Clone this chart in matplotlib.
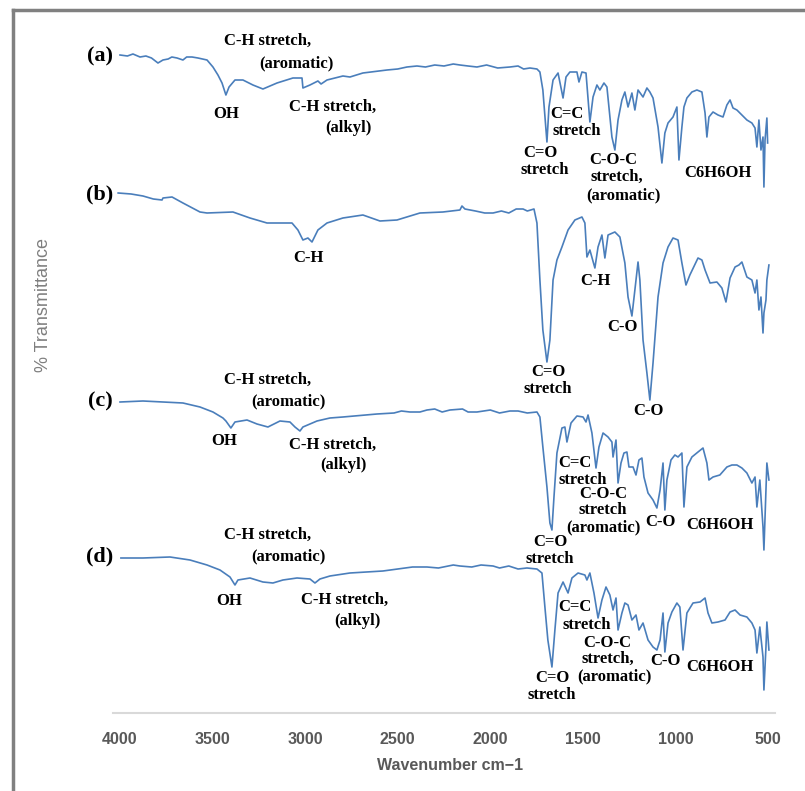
import matplotlib
matplotlib.use("Agg")
import matplotlib.pyplot as plt
from matplotlib.lines import Line2D

W, H = 805, 791

# wavenumbers (cm-1) and transmittance (arbitrary, stacked)
wn_a = [4000, 3960, 3930, 3892, 3860, 3830, 3795, 3768, 3740, 3720, 3692, 3660, 3640, 3611, 3579,
        3530, 3498, 3471, 3449, 3428, 3411, 3379, 3336, 3282, 3228, 3152, 3066, 3017, 3012, 2974,
        2931, 2914, 2882, 2796, 2758, 2688, 2558, 2500, 2450, 2396, 2350, 2300, 2250, 2200, 2164,
        2120, 2072, 2020, 1960, 1894, 1850, 1820, 1786, 1748, 1732, 1716, 1694, 1683, 1661, 1634,
        1607, 1591, 1570, 1532, 1521, 1505, 1483, 1462, 1445, 1424, 1408, 1386, 1370, 1343, 1327,
        1310, 1289, 1273, 1256, 1235, 1219, 1202, 1175, 1154, 1138, 1121, 1094, 1073, 1057, 1040,
        1013, 992, 981, 965, 954, 938, 911, 884, 857, 840, 830, 819, 797, 770, 743,
        722, 705, 689, 668, 641, 614, 587, 570, 560, 549, 538, 527, 522, 516, 506, 502]
t_a = [658, 657, 659, 656, 657, 655, 650, 653, 654, 656, 655, 653, 656, 656, 655,
       653, 646, 638, 630, 618, 626, 633, 633, 628, 624, 630, 635, 635, 625, 628,
       632, 629, 633, 637, 636, 640, 643, 644, 646, 647, 646, 648, 647, 649, 648,
       647, 646, 648, 645, 646, 647, 644, 645, 644, 641, 623, 571, 606, 633, 640,
       615, 636, 641, 641, 631, 641, 640, 591, 616, 628, 623, 630, 626, 576, 563,
       593, 613, 621, 606, 620, 603, 623, 616, 625, 621, 615, 586, 550, 580, 590,
       596, 606, 553, 586, 606, 615, 621, 623, 621, 600, 576, 596, 601, 598, 596,
       608, 613, 605, 603, 598, 593, 590, 585, 566, 593, 563, 576, 526, 573, 595, 570]

wn_b = [4010, 3940, 3876, 3820, 3773, 3768, 3719, 3660, 3568, 3530, 3390, 3298, 3206, 3071, 3039,
        3012, 2985, 2963, 2931, 2882, 2796, 2688, 2596, 2504, 2380, 2256, 2164, 2153, 2137, 2080,
        2030, 1985, 1940, 1900, 1860, 1823, 1800, 1764, 1748, 1732, 1716, 1694, 1678, 1661, 1640,
        1613, 1580, 1543, 1505, 1489, 1478, 1462, 1435, 1418, 1397, 1381, 1364, 1327, 1300, 1273,
        1256, 1235, 1219, 1202, 1192, 1175, 1154, 1138, 1121, 1094, 1067, 1040, 1013, 986, 965,
        943, 922, 878, 857, 840, 813, 776, 749, 727, 705, 678, 657, 641, 614, 587,
        570, 560, 549, 538, 527, 522, 511, 506, 495]
t_b = [520, 519, 517, 514, 513, 515, 516, 510, 501, 500, 501, 495, 490, 490, 483,
       473, 475, 471, 483, 490, 495, 498, 492, 493, 500, 501, 503, 507, 504, 502,
       500, 500, 502, 500, 504, 504, 502, 504, 490, 433, 383, 351, 373, 433, 453,
       466, 483, 493, 496, 490, 456, 463, 445, 466, 478, 455, 478, 481, 476, 450,
       416, 397, 423, 451, 433, 373, 340, 313, 350, 416, 450, 466, 475, 473, 450,
       428, 438, 455, 453, 443, 430, 431, 425, 411, 435, 446, 448, 451, 436, 433,
       420, 433, 403, 416, 380, 400, 413, 433, 448]

wn_c = [4000, 3876, 3768, 3660, 3568, 3498, 3444, 3428, 3401, 3379, 3314, 3260, 3201, 3136, 3082,
        3055, 3028, 3012, 2936, 2866, 2796, 2612, 2520, 2480, 2434, 2380, 2342, 2300, 2260, 2218,
        2150, 2120, 2072, 2000, 1950, 1894, 1850, 1800, 1748, 1732, 1716, 1694, 1678, 1667, 1656,
        1640, 1613, 1597, 1586, 1564, 1532, 1499, 1483, 1472, 1451, 1429, 1413, 1391, 1364, 1343,
        1337, 1321, 1310, 1294, 1278, 1262, 1251, 1229, 1213, 1197, 1181, 1170, 1148, 1121, 1100,
        1083, 1067, 1057, 1046, 1024, 1003, 986, 965, 954, 938, 911, 878, 851, 830, 819,
        797, 760, 722, 695, 668, 641, 614, 587, 570, 560, 544, 527, 522, 511, 506, 495]
t_c = [311, 312, 311, 310, 306, 301, 295, 292, 285, 291, 293, 289, 286, 292, 291,
       286, 282, 286, 292, 295, 296, 299, 300, 302, 301, 301, 303, 304, 301, 303,
       304, 301, 301, 303, 300, 302, 302, 300, 301, 296, 266, 226, 190, 183, 216,
       260, 285, 286, 271, 290, 297, 296, 291, 298, 280, 245, 266, 280, 276, 271,
       256, 273, 230, 250, 260, 261, 246, 246, 238, 253, 255, 236, 220, 213, 205,
       223, 250, 203, 233, 253, 258, 256, 260, 206, 246, 256, 261, 265, 250, 233,
       236, 238, 246, 248, 248, 245, 240, 230, 236, 206, 233, 186, 163, 223, 250, 233]

wn_d = [3995, 3876, 3730, 3622, 3530, 3460, 3406, 3379, 3363, 3298, 3228, 3174, 3120, 3044, 2974,
        2947, 2920, 2866, 2758, 2580, 2500, 2420, 2342, 2280, 2200, 2164, 2100, 2050, 1985, 1950,
        1900, 1850, 1802, 1748, 1721, 1705, 1689, 1667, 1651, 1634, 1607, 1580, 1559, 1526, 1489,
        1478, 1462, 1440, 1418, 1397, 1375, 1354, 1337, 1321, 1310, 1289, 1273, 1256, 1235, 1213,
        1197, 1175, 1148, 1121, 1100, 1083, 1067, 1057, 1040, 1019, 992, 976, 959, 938, 905,
        867, 840, 824, 803, 770, 732, 705, 678, 651, 614, 587, 570, 560, 544, 527,
        522, 511, 506, 495]
t_d = [155, 155, 156, 153, 148, 143, 136, 128, 133, 135, 131, 130, 133, 135, 134,
       130, 134, 137, 140, 142, 144, 146, 146, 145, 148, 147, 146, 148, 147, 145,
       147, 144, 145, 144, 140, 106, 73, 46, 83, 120, 131, 120, 135, 140, 138,
       133, 140, 120, 95, 113, 126, 118, 103, 115, 83, 100, 110, 108, 93, 98,
       83, 90, 73, 66, 63, 73, 100, 61, 90, 101, 110, 106, 63, 100, 110,
       111, 115, 100, 90, 91, 93, 101, 103, 98, 96, 90, 83, 60, 86, 56,
       23, 66, 91, 63]

spectra = [(wn_a, t_a), (wn_b, t_b), (wn_c, t_c), (wn_d, t_d)]
xticks = [4000, 3500, 3000, 2500, 2000, 1500, 1000, 500]

# band labels: text, x px, y px
labels = [
    ("C-H stretch,", 268, 41), ("(aromatic)", 296, 63), ("OH", 226, 114),
    ("C-H stretch,", 333, 107), ("(alkyl)", 348, 128),
    ("C=C", 567, 114), ("stretch", 577, 131), ("C=O", 540, 153), ("stretch", 545, 170),
    ("C-O-C", 613, 160), ("stretch,", 617, 177), ("(aromatic)", 623, 195), ("C6H6OH", 718, 173),

    ("C-H", 308, 258), ("C-H", 595, 281), ("C-O", 622, 327), ("C=O", 548, 372),
    ("stretch", 548, 389), ("C-O", 648, 411),

    ("C-H stretch,", 268, 380), ("(aromatic)", 288, 401), ("OH", 224, 441),
    ("C-H stretch,", 333, 445), ("(alkyl)", 343, 465),
    ("C=C", 575, 463), ("stretch", 583, 480), ("C-O-C", 603, 494), ("stretch", 603, 510),
    ("(aromatic)", 603, 527), ("C-O", 660, 522), ("C6H6OH", 720, 525),
    ("C=O", 550, 542), ("stretch", 550, 559),

    ("C-H stretch,", 268, 535), ("(aromatic)", 288, 556), ("OH", 229, 601),
    ("C-H stretch,", 345, 600), ("(alkyl)", 357, 621),
    ("C=C", 575, 607), ("stretch", 587, 625), ("C-O-C", 607, 643), ("stretch,", 608, 659),
    ("(aromatic)", 614, 676), ("C-O", 665, 661), ("C6H6OH", 720, 667),
    ("C=O", 552, 678), ("stretch", 552, 695),
]
panel_tags = [("(a)", 100, 56), ("(b)", 100, 194), ("(c)", 100, 401), ("(d)", 100, 556)]


def fpos(x, y):
    return x / W, 1 - y / H


fig = plt.figure(figsize=(W / 100, H / 100), dpi=100)
ax = fig.add_axes([112.6 / W, (H - 713) / H, 662.8 / W, 693 / H])

for wn, t in spectra:
    ax.plot(wn, t, color='#4a7ebb', lw=1.2)

ax.set_xlim(4040, 460)
ax.set_ylim(0, 693)
ax.set_yticks([])
ax.set_xticks(xticks)
ax.set_xticklabels([str(v) for v in xticks], fontsize=11.5, fontweight='bold',
                   color='#595959', family='Liberation Sans')
ax.tick_params(axis='x', length=0, pad=14)
for s in ['top', 'right', 'left']:
    ax.spines[s].set_visible(False)
ax.spines['bottom'].set_color('#d9d9d9')
ax.spines['bottom'].set_linewidth(1.5)

fig.text(*fpos(450, 766), 'Wavenumber cm\u22121', ha='center', va='center', fontsize=11.5,
         fontweight='bold', color='#595959', family='Liberation Sans')
fig.text(*fpos(44, 305), '% Transmittance', ha='center', va='center', rotation=90,
         fontsize=13, color='#7f7f7f', family='Liberation Sans')

for txt, x, y in labels:
    fig.text(*fpos(x, y), txt, ha='center', va='center', fontsize=12, fontweight='bold',
             family='Liberation Serif', color='black')
for txt, x, y in panel_tags:
    fig.text(*fpos(x, y), txt, ha='center', va='center', fontsize=16, fontweight='bold',
             family='Liberation Serif', color='black')

# grey frame round the picture
fig.add_artist(Line2D([13 / W, 13 / W], [0, 1 - 10 / H], color='#808080', lw=2.5))
fig.add_artist(Line2D([13 / W, 1], [1 - 10 / H, 1 - 10 / H], color='#808080', lw=2.5))

fig.savefig('out.png', dpi=100)
